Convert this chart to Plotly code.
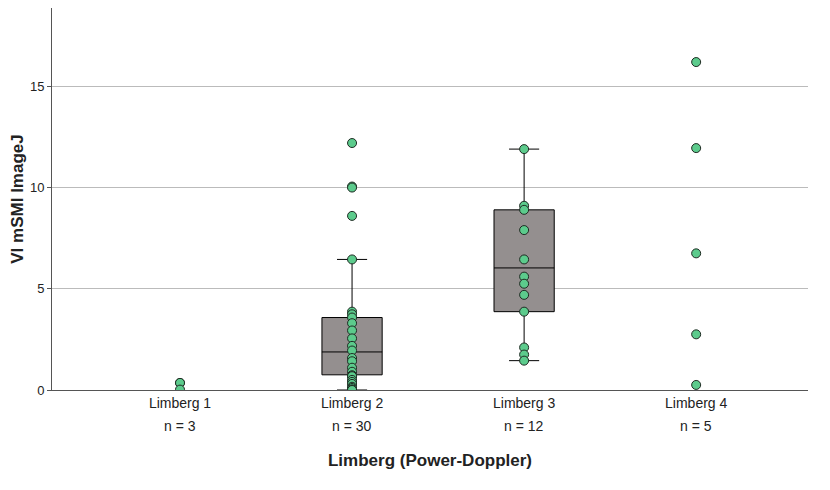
import plotly.graph_objects as go

categories = ["Limberg 1", "Limberg 2", "Limberg 3", "Limberg 4"]
counts = [3, 30, 12, 5]

# box statistics (only groups 2 and 3 show boxes)
box_cats = [1, 2]
box_q1 = [0.75, 3.87]
box_median = [1.88, 6.03]
box_q3 = [3.58, 8.9]
box_low = [0.0, 1.45]
box_high = [6.45, 11.9]

points = {
    0: [0.35, 0.35, 0.02],
    1: [12.2, 10.05, 10.0, 8.6, 6.45, 3.87, 3.74, 3.58, 3.3, 2.94, 2.55,
        2.18, 1.95, 1.58, 1.42, 1.1, 0.9, 0.73, 0.68, 0.68, 0.5, 0.4, 0.3,
        0.16, 0.1, 0.03, 0.0, 0.0, 0.0, 0.0],
    2: [11.9, 9.1, 8.9, 7.9, 6.45, 5.6, 5.25, 4.7, 3.87, 2.1, 1.75, 1.45],
    3: [16.2, 11.95, 6.75, 2.75, 0.25],
}

fig = go.Figure()
fig.add_trace(go.Box(
    x=box_cats, q1=box_q1, median=box_median, q3=box_q3,
    lowerfence=box_low, upperfence=box_high, width=0.35,
    fillcolor="#948f8f", line=dict(color="black", width=1),
    whiskerwidth=0.5, hoverinfo="skip", showlegend=False,
))
for i, vals in points.items():
    fig.add_trace(go.Scatter(
        x=[i] * len(vals), y=vals, mode="markers", showlegend=False,
        marker=dict(size=9, color="#5ccb8c", line=dict(color="#1e2a22", width=1)),
    ))

for i, n in enumerate(counts):
    fig.add_annotation(x=i, y=-0.12, xref="x", yref="paper", text=f"n = {n}",
                       showarrow=False, font=dict(size=14, color="#222"))

fig.update_layout(
    width=830, height=490, plot_bgcolor="white", paper_bgcolor="white",
    margin=dict(l=44, r=30, t=0, b=108),
    font=dict(family="Arial, Liberation Sans", size=13, color="#222"),
)
fig.update_xaxes(
    range=[-0.744, 3.65], tickvals=[0, 1, 2, 3], ticktext=categories,
    showgrid=False, showline=True, linecolor="#555", zeroline=False,
    tickfont=dict(size=14),
    title=dict(text="<b>Limberg (Power-Doppler)</b>", font=dict(size=17), standoff=44),
)
fig.update_yaxes(
    range=[0, 18.87], tickvals=[0, 5, 10, 15], showgrid=True, gridcolor="#bbbbbb",
    showline=True, linecolor="#555", zeroline=False, ticks="outside", ticklen=4,
    tickcolor="#555",
    title=dict(text="<b>VI mSMI ImageJ</b>", font=dict(size=17), standoff=8),
)
fig.write_html("out.html")
